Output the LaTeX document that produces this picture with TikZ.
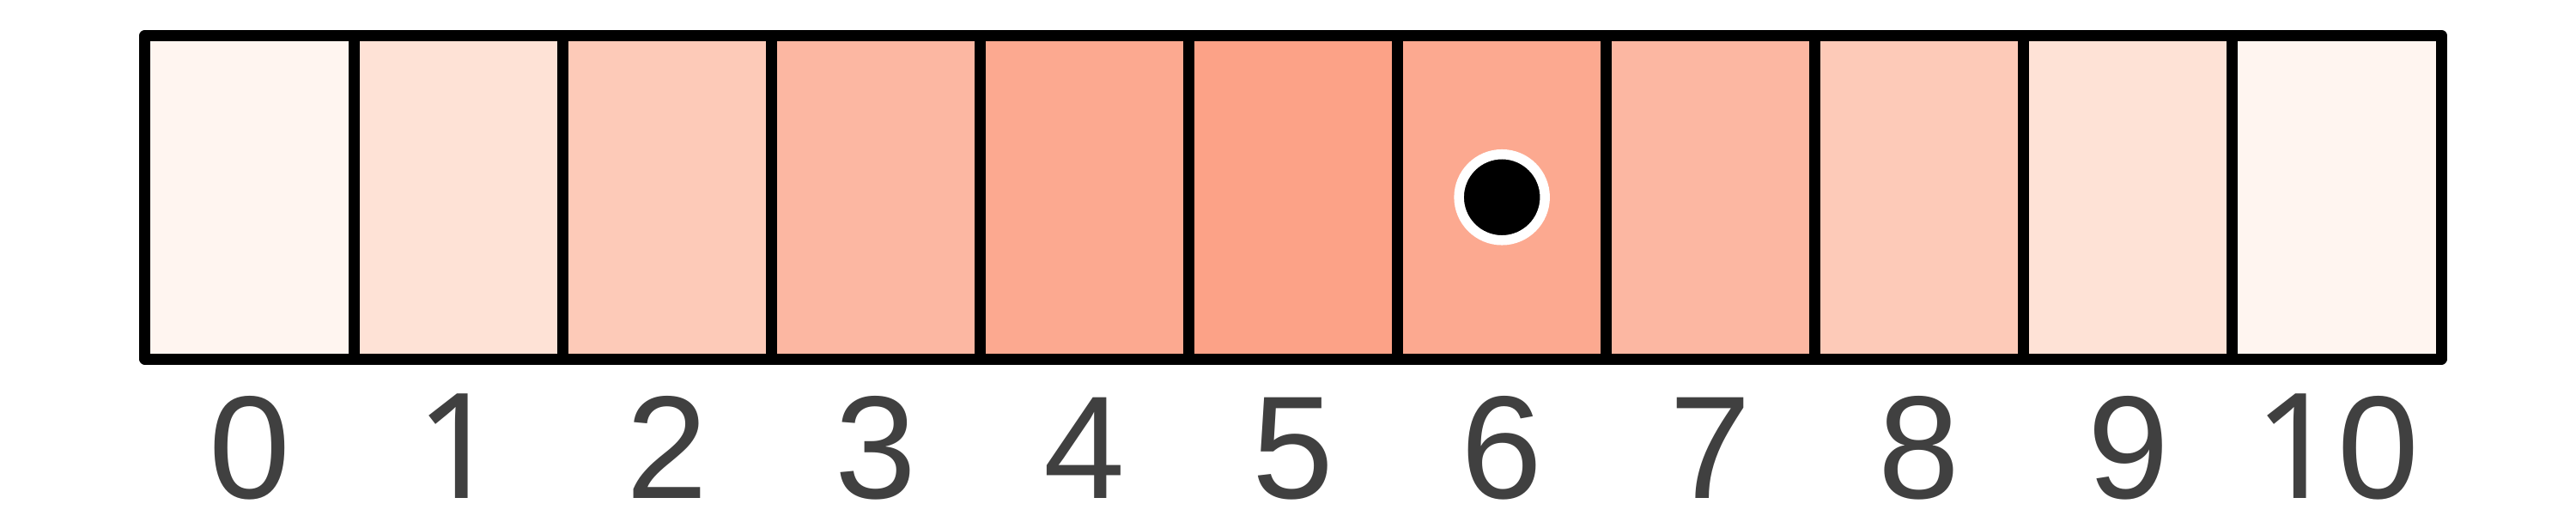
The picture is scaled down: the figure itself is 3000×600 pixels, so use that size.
\documentclass[tikz,border=0pt]{standalone}
\usepackage{fontspec}
\setmainfont{Liberation Sans}
\newfontfamily\onefont{Noto Sans}
\definecolor{cA}{HTML}{FFF5F0}
\definecolor{cB}{HTML}{FEE2D6}
\definecolor{cC}{HTML}{FDCAB8}
\definecolor{cD}{HTML}{FCB7A2}
\definecolor{cE}{HTML}{FCA990}
\definecolor{cF}{HTML}{FCA287}
\definecolor{labgray}{HTML}{404040}
\tikzset{
  cellbox/.style={rectangle, draw=black, line width=0.13cm, line join=round,
    minimum width=2.431cm, minimum height=3.765cm, inner sep=0pt, outer sep=0pt},
  numlabel/.style={anchor=base, text=labgray, inner sep=0pt,
    font=\fontsize{48.5}{58}\selectfont},
  marker/.style={circle, fill=black, draw=white, line width=0.115cm,
    minimum size=1cm, inner sep=0pt}
}
\begin{document}
\begin{tikzpicture}[x=0.01cm, y=-0.01cm]
\useasboundingbox (0,0) rectangle (3000,600);
\foreach \k/\c/\t in {0/cA/0,1/cB/{{\onefont 1}},2/cC/2,3/cD/3,4/cE/4,5/cF/5,
    6/cE/6,7/cD/7,8/cC/8,9/cB/9,10/cA/{{\onefont 1}0}}{
  \node[cellbox, fill=\c] (cell\k) at ({169+243.1*(\k+0.5)}, 229.75) {};
  \node[numlabel] (lab\k) at ({169+243.1*(\k+0.5)}, 580) {\t};
}
\node[marker] (dot) at (cell6.center) {};
\end{tikzpicture}
\end{document}
